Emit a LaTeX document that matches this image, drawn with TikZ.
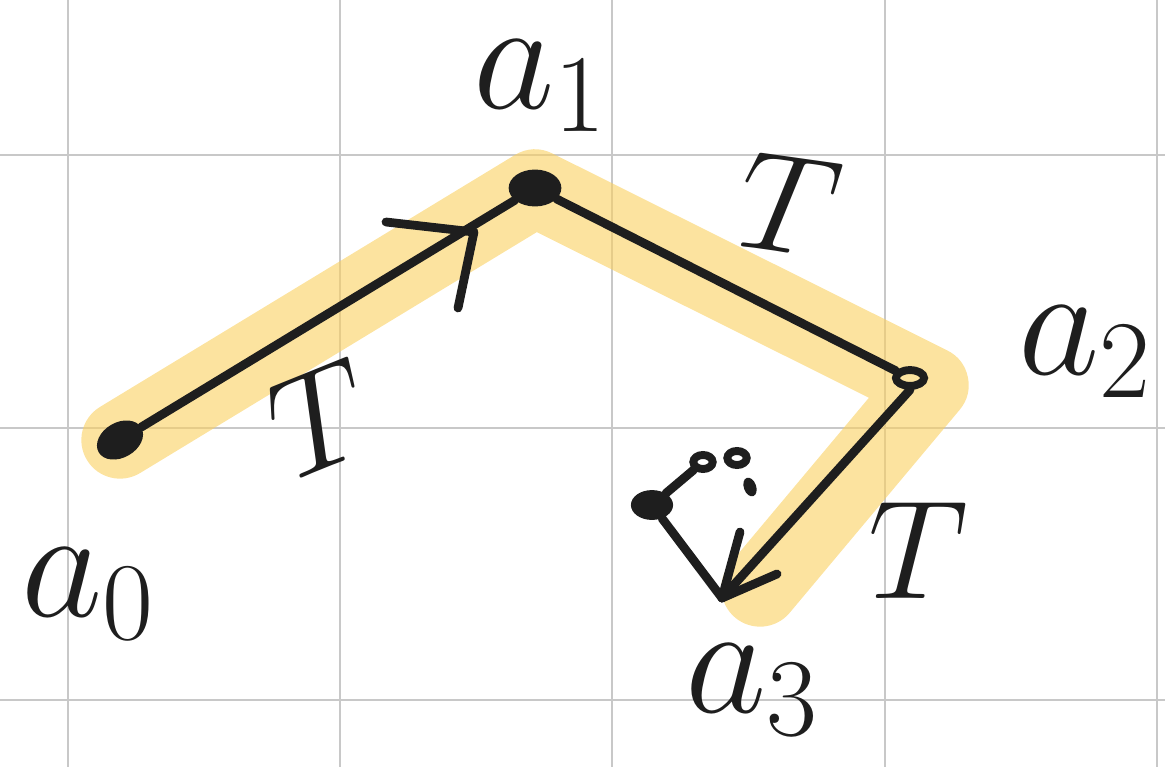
\RequirePackage{fix-cm}
\documentclass[tikz,border=0pt]{standalone}
\usetikzlibrary{shapes.geometric,arrows.meta}
\definecolor{hl}{RGB}{250,208,95}
\definecolor{gridc}{RGB}{200,200,200}
\definecolor{ink}{RGB}{30,30,30}
\tikzset{
  gridline/.style={gridc,line width=1.6pt},
  highlight/.style={hl,opacity=0.6,line width=44pt,line cap=round,line join=round},
  pen/.style={ink,line width=5pt,line cap=round,line join=round},
  blob/.style={ellipse,fill=ink,inner sep=0pt},
  ring/.style={ellipse,draw=ink,line width=4.5pt,inner sep=0pt},
  lab/.style={ink,font=\fontsize{90}{90}\selectfont,inner sep=0pt},
  tlab/.style={ink,font=\fontsize{80}{80}\selectfont,inner sep=0pt},
}
\begin{document}
\begin{tikzpicture}[x=0.02cm,y=-0.02cm]
\useasboundingbox (0,0) rectangle (1165,767);
% grid
\foreach \x in {68,340,612,885,1157} \draw[gridline] (\x,0) -- (\x,767);
\foreach \y in {155,428,700} \draw[gridline] (0,\y) -- (1165,\y);
% highlight
\draw[highlight] (120,440) -- (535,188) -- (930,385) -- (760,588);
% points
\node[blob,minimum width=28pt,minimum height=20pt,rotate=30] (a0) at (120,440) {};
\node[blob,minimum width=30pt,minimum height=21pt] (a1) at (535,188) {};
\node[ring,minimum width=16pt,minimum height=9pt] (a2) at (910,378) {};
\coordinate (a3) at (722,598);
% connectors
\draw[pen] (a0) -- (a1);
\draw[pen] (a1) -- (a2);
\draw[pen] (a2.south) -- (a3);
\coordinate (h1) at (740,532);
\coordinate (h2) at (777,574);
\draw[pen] (h1) -- (a3) -- (h2);
% arrow mark on a0-a1
\coordinate (m1) at (386,222);
\coordinate (m2) at (474,232);
\coordinate (m3) at (458,308);
\draw[pen] (m1) -- (m2) -- (m3);
% small loop near a3
\node[blob,minimum width=24pt,minimum height=17pt] (l1) at (652,505) {};
\node[ring,minimum width=11pt,minimum height=8pt] (l2) at (703,462) {};
\node[ring,minimum width=11pt,minimum height=8pt] (l3) at (737,458) {};
\node[blob,minimum width=7pt,minimum height=11pt,rotate=20] (l4) at (750,487) {};
\draw[pen] (a3) -- (l1) -- (l2);
% labels
\node[lab] (la0) at (88,594) {$a_0$};
\node[lab] (la1) at (540,86) {$a_1$};
\node[lab] (la2) at (1085,352) {$a_2$};
\node[lab] (la3) at (752,690) {$a_3$};
\node[tlab,rotate=22] (t1) at (322,418) {$T$};
\node[tlab,rotate=-8] (t2) at (790,205) {$T$};
\node[tlab] (t3) at (918,550) {$T$};
\end{tikzpicture}
\end{document}
